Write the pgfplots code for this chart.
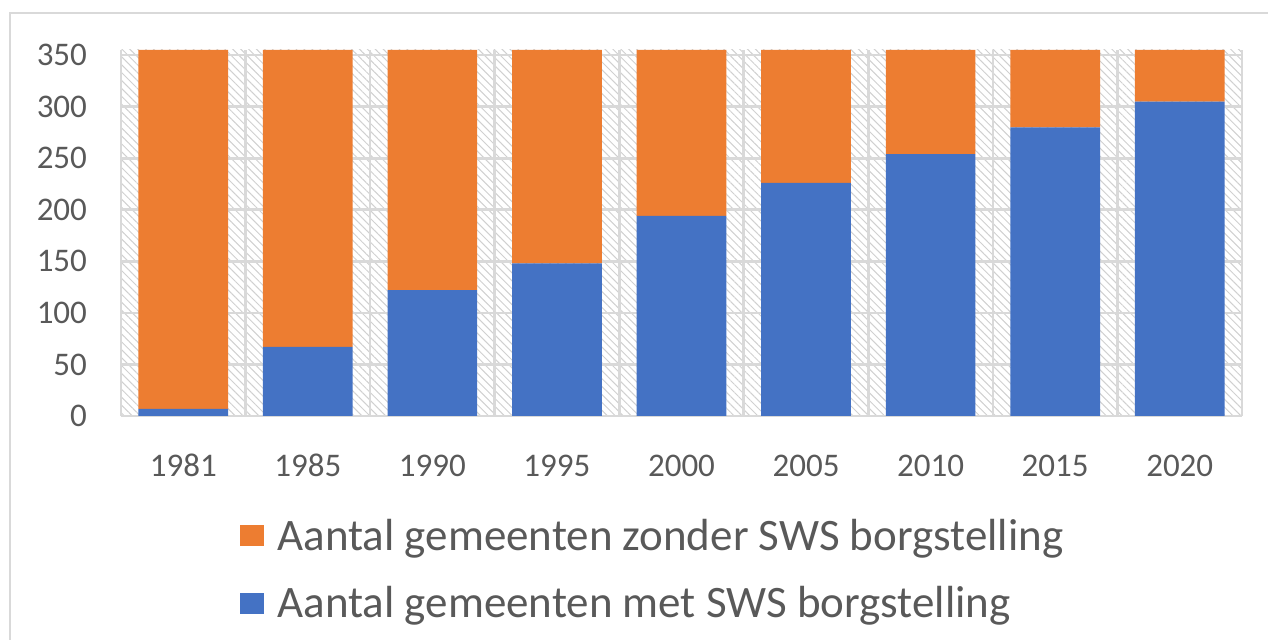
\documentclass[border=0pt]{standalone}
\usepackage{pgfplots}
\pgfplotsset{compat=1.18}
\usepackage{fontspec}
\setmainfont{Carlito}
\usetikzlibrary{patterns.meta}
\definecolor{cblue}{HTML}{4472C4}
\definecolor{corange}{HTML}{ED7D31}
\definecolor{ctext}{HTML}{595959}
\definecolor{cgrid}{HTML}{D9D9D9}
\definecolor{chatch}{HTML}{D0D0D0}
\begin{document}
\begin{tikzpicture}[x=1pt,y=1pt]
\begin{axis}[
  scale only axis, width=560.5pt, height=183pt,
  ybar stacked, bar width=0.72,
  xmin=-0.5, xmax=8.5, ymin=0, ymax=355,
  xtick={0,...,8},
  xticklabels={1981,1985,1990,1995,2000,2005,2010,2015,2020},
  minor xtick={-0.5,0.5,...,8.5},
  ytick={0,50,...,350},
  major tick length=0pt, minor tick length=0pt,
  ymajorgrids, xminorgrids,
  grid style={cgrid, line width=1.3pt},
  axis line style={draw=none},
  axis background/.style={pattern={Lines[angle=-45,distance=2.8pt,line width=0.5pt]}, pattern color=chatch},
  tick label style={font=\fontsize{16.5}{20}\selectfont, text=ctext},
  /pgf/number format/assume math mode=true,
  yticklabel style={xshift=-13.5pt},
  xticklabel style={anchor=base, yshift=-30.5pt},
  legend style={at={(0.1062,-0.281)}, anchor=north west, draw=none, fill=none,
    font=\fontsize{22.5}{26}\selectfont, text=ctext, inner sep=0pt,
    nodes={inner sep=0pt}, row sep=16.5pt},
  legend cell align=left,
  reverse legend,
]
\addplot[fill=cblue, draw=none, legend image code/.code={\fill[cblue] (0pt,-5pt) rectangle (12pt,5.5pt); \path (18.5pt,0pt);}]
  coordinates {(0,7) (1,67) (2,122) (3,148) (4,194) (5,226) (6,254) (7,280) (8,305)};
\addplot[fill=corange, draw=none, legend image code/.code={\fill[corange] (0pt,-5pt) rectangle (12pt,5.5pt); \path (18.5pt,0pt);}]
  coordinates {(0,348) (1,288) (2,233) (3,207) (4,161) (5,129) (6,101) (7,75) (8,50)};
\legend{Aantal gemeenten met SWS borgstelling, Aantal gemeenten zonder SWS borgstelling}
\coordinate (O) at (rel axis cs:0,0);
\end{axis}
\pgfresetboundingbox
\path[use as bounding box] ([shift={(-60.5,-112)}]O) rectangle ([shift={(573.5,208)}]O);
\draw[cgrid, line width=1.2pt] ([shift={(-55.5,201.5)}]O) rectangle ([shift={(700,-300)}]O);
\end{tikzpicture}
\end{document}
